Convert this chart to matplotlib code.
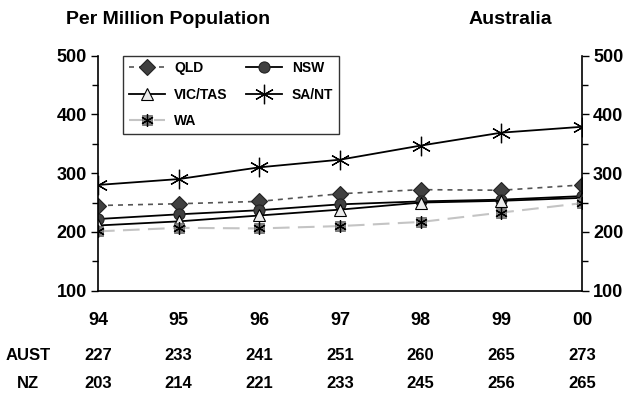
import matplotlib
matplotlib.use("Agg")
import matplotlib.pyplot as plt
from matplotlib.ticker import MultipleLocator

plt.rcParams['font.family'] = ['Liberation Sans', 'DejaVu Sans']
plt.rcParams['font.weight'] = 'bold'

years = ["94", "95", "96", "97", "98", "99", "00"]
qld = [245, 248, 252, 265, 272, 271, 280]
nsw = [222, 230, 237, 247, 252, 255, 261]
vic_tas = [211, 218, 228, 238, 250, 253, 258]
sa_nt = [280, 290, 310, 323, 347, 369, 379]
wa = [201, 207, 206, 210, 217, 233, 249]
aust = [227, 233, 241, 251, 260, 265, 273]
nz = [203, 214, 221, 233, 245, 256, 265]

W, H = 629, 394
fig = plt.figure(figsize=(W / 100, H / 100), dpi=100)
left, right, top, bottom = 98, 582, 55.7, 290.7
ax = fig.add_axes([left / W, 1 - bottom / H, (right - left) / W, (bottom - top) / H])

x = list(range(len(years)))

l_qld, = ax.plot(x, qld, color='#555555', ls=(0, (3, 3)), lw=1.2,
                 marker='D', ms=8, mfc='#404040', mec='#222222', mew=0.8)
l_nsw, = ax.plot(x, nsw, color='black', lw=1.3,
                 marker='o', ms=8, mfc='#404040', mec='#222222', mew=0.8)
l_vic, = ax.plot(x, vic_tas, color='black', lw=1.3,
                 marker='^', ms=9, mfc='#ececec', mec='black', mew=0.8)
l_sa, = ax.plot(x, sa_nt, color='black', lw=1.3,
                marker=(6, 2, 0), ms=14, mec='black', mew=0.9)
l_wa, = ax.plot(x, wa, color='#c4c4c4', ls=(0, (8, 4)), lw=1.5,
                marker='s', ms=7, mfc='#808080', mec='#606060', mew=0.5)
l_wa2, = ax.plot(x, wa, ls='none', marker=(6, 2, 0), ms=9, mec='black', mew=0.9)

ax.set_xlim(0, 6)
ax.set_ylim(100, 500)
ax.yaxis.set_major_locator(MultipleLocator(100))
ax.yaxis.set_minor_locator(MultipleLocator(50))
ax.tick_params(axis='y', which='both', left=True, right=True,
               labelleft=True, labelright=True, direction='out',
               width=1.0, labelsize=13, pad=3)
ax.tick_params(axis='y', which='major', length=5)
ax.tick_params(axis='y', which='minor', length=4)
ax.set_xticks([])
for s in ['left', 'right', 'bottom']:
    ax.spines[s].set_linewidth(1.2)
ax.spines['top'].set_visible(False)

# year labels and the national rows beneath the axis
for i, yr in enumerate(years):
    ax.annotate(yr, xy=(i, 0), xycoords=('data', 'axes fraction'),
                xytext=(0, -30), textcoords='offset pixels',
                ha='center', va='center', fontsize=13, fontweight='bold')
    ax.annotate(str(aust[i]), xy=(i, 0), xycoords=('data', 'axes fraction'),
                xytext=(0, -(356 - bottom)), textcoords='offset pixels',
                ha='center', va='center', fontsize=12, fontweight='bold')
    ax.annotate(str(nz[i]), xy=(i, 0), xycoords=('data', 'axes fraction'),
                xytext=(0, -(383 - bottom)), textcoords='offset pixels',
                ha='center', va='center', fontsize=12, fontweight='bold')

fig.text(28 / W, 1 - 356 / H, "AUST", ha='center', va='center', fontsize=12, fontweight='bold')
fig.text(28 / W, 1 - 383 / H, "NZ", ha='center', va='center', fontsize=12, fontweight='bold')

fig.text(66 / W, 1 - 20 / H, "Per Million Population", ha='left', va='center',
         fontsize=14, fontweight='bold')
fig.text(552 / W, 1 - 20 / H, "Australia", ha='right', va='center',
         fontsize=14, fontweight='bold')

# entries ordered so the two-column legend reads row by row
leg = ax.legend([l_qld, l_vic, (l_wa, l_wa2), l_nsw, l_sa],
                ['QLD', 'VIC/TAS', 'WA', 'NSW', 'SA/NT'],
                ncol=2, loc='upper left',
                bbox_to_anchor=((123 - left) / (right - left), 1.0),
                borderaxespad=0, frameon=True, fancybox=False,
                prop={'weight': 'bold', 'size': 10},
                handlelength=2.6, handletextpad=0.7, columnspacing=1.3,
                labelspacing=0.9, borderpad=0.4)
leg.get_frame().set_edgecolor('black')
leg.get_frame().set_linewidth(1.0)

fig.savefig("out.png", dpi=100)
